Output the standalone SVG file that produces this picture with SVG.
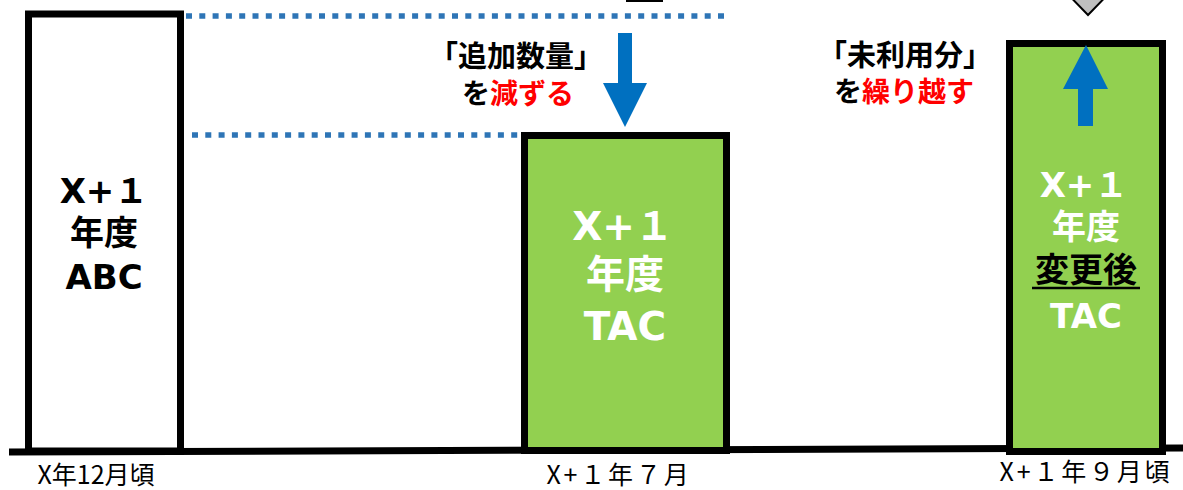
<svg xmlns="http://www.w3.org/2000/svg" width="1183" height="490" viewBox="0 0 1183 490">
<style>
.box{stroke:#000;stroke-width:7}
.white{fill:#fff}
.green{fill:#92D050}
.dot{fill:none;stroke:#2E75B6;stroke-width:5.5;stroke-dasharray:6 7.3}
.t{font-family:"DejaVu Sans","Noto Sans CJK JP",sans-serif;font-weight:bold;text-anchor:middle}
.lbl{font-family:"Noto Sans CJK JP",sans-serif;font-size:25px;text-anchor:middle;fill:#000}
.blue{fill:#0070C0}
.red{fill:#FF0000}
</style>
<g id="connectors">
<line class="dot" x1="186" y1="16" x2="727" y2="16"/>
<line class="dot" x1="192" y1="135" x2="522" y2="135"/>
<polygon id="down-arrow" class="blue" points="618,33 632,33 632,83 647,83 625,127 603,83 618,83"/>
<polygon id="top-grey" points="1056,-18 1120,-18 1088,15" fill="#BFBFBF" stroke="#000" stroke-width="2"/>
<rect id="top-box" x="627" y="-12" width="35" height="13" fill="#fff" stroke="#000" stroke-width="2"/>
</g>
<g id="baseline">
<line x1="9" y1="452" x2="1183" y2="448" stroke="#000" stroke-width="7"/>
</g>
<g id="abc">
<rect class="box white" x="28.5" y="14" width="152" height="437"/>
<text class="t" x="104" y="203" font-size="34">X+１</text>
<text class="t" x="104" y="245" font-size="34">年度</text>
<text class="t" x="104" y="289" font-size="34">ABC</text>
</g>
<g id="tac1">
<rect class="box green" x="524.5" y="135.5" width="202" height="315"/>
<text class="t" x="623" y="240" font-size="39" fill="#fff">X+１</text>
<text class="t" x="625" y="288" font-size="39" fill="#fff">年度</text>
<text class="t" x="625" y="340" font-size="39" fill="#fff">TAC</text>
</g>
<g id="tac2">
<rect class="box green" x="1009.5" y="43.5" width="153" height="408"/>
<polygon class="blue" points="1086,45 1108,89 1093,89 1093,126 1078,126 1078,89 1063,89"/>
<text class="t" x="1084" y="197" font-size="34" fill="#fff">X+１</text>
<text class="t" x="1086" y="239" font-size="34" fill="#fff">年度</text>
<text class="t" x="1086" y="282" font-size="34" fill="#000">変更後</text>
<line x1="1032" y1="288" x2="1140" y2="288" stroke="#000" stroke-width="2.5"/>
<text class="t" x="1086" y="328" font-size="34" fill="#fff">TAC</text>
</g>
<g id="note-reduce">
<text class="t" x="516" y="67" font-size="29">「追加数量」</text>
<text class="t" x="518" y="104" font-size="28">を<tspan class="red">減ずる</tspan></text>
</g>
<g id="note-carry">
<text class="t" x="905" y="66" font-size="29">「未利用分」</text>
<text class="t" x="904" y="102" font-size="28">を<tspan class="red">繰り越す</tspan></text>
</g>
<g id="labels">
<text class="lbl" x="96" y="484">X年12月頃</text>
<text class="lbl" x="619" y="484" letter-spacing="2.8">X+１年７月</text>
<text class="lbl" x="1086" y="481" letter-spacing="2.8">X+１年９月頃</text>
</g>
</svg>
